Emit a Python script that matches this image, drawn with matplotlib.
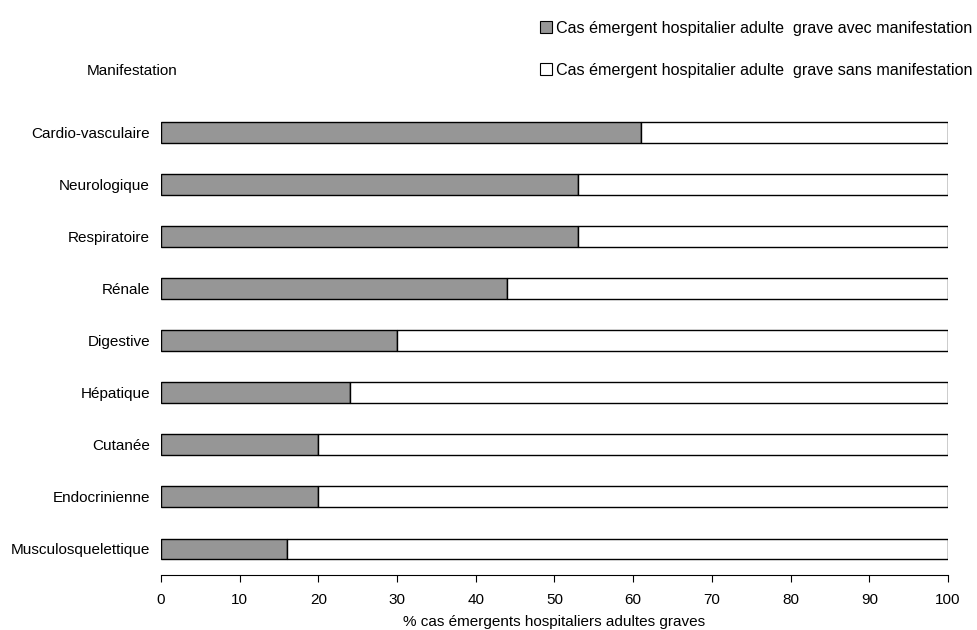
import numpy as np
import matplotlib
matplotlib.use('Agg')
import matplotlib.pyplot as plt
from matplotlib.patches import Patch

plt.rcParams['font.family'] = ['Liberation Sans', 'DejaVu Sans']
plt.rcParams['font.size'] = 11

categories = ['Cardio-vasculaire', 'Neurologique', 'Respiratoire', 'Rénale', 'Digestive',
              'Hépatique', 'Cutanée', 'Endocrinienne', 'Musculosquelettique']
avec = [61, 53, 53, 44, 30, 24, 20, 20, 16]
sans = [100 - v for v in avec]
ticks = list(range(0, 101, 10))

lab_avec = 'Cas émergent hospitalier adulte  grave avec manifestation'
lab_sans = 'Cas émergent hospitalier adulte  grave sans manifestation'

fig = plt.figure(figsize=(9.77, 6.3), dpi=100)
ax = fig.add_axes([0.1648, 0.0873, 0.8055, 0.7444])

y = np.arange(len(categories))[::-1]
ax.barh(y, avec, height=0.4, color='#969696', edgecolor='black', linewidth=1)
ax.barh(y, sans, left=avec, height=0.4, color='white', edgecolor='black', linewidth=1)

ax.set_ylim(-0.5, len(categories) - 0.5)
ax.set_xlim(0, 100)
ax.set_yticks(y)
ax.set_yticklabels(categories)
ax.tick_params(axis='y', length=0, pad=8)
ax.set_xticks(ticks)
ax.tick_params(axis='x', direction='out', length=5, pad=8)
ax.set_xlabel('% cas émergents hospitaliers adultes graves', labelpad=6)
for s in ['top', 'right', 'left']:
    ax.spines[s].set_visible(False)

fig.text(0.135, 0.887, 'Manifestation', ha='center', va='center')

handles = [Patch(facecolor='#969696', edgecolor='black', linewidth=0.8),
           Patch(facecolor='white', edgecolor='black', linewidth=0.8)]
fig.legend(handles, [lab_avec, lab_sans], loc='upper left', bbox_to_anchor=(0.546, 0.977),
           frameon=False, handlelength=0.75, handleheight=0.75, handletextpad=0.25,
           labelspacing=1.65, borderaxespad=0, fontsize=11.6)

fig.savefig('out.png', dpi=100)
